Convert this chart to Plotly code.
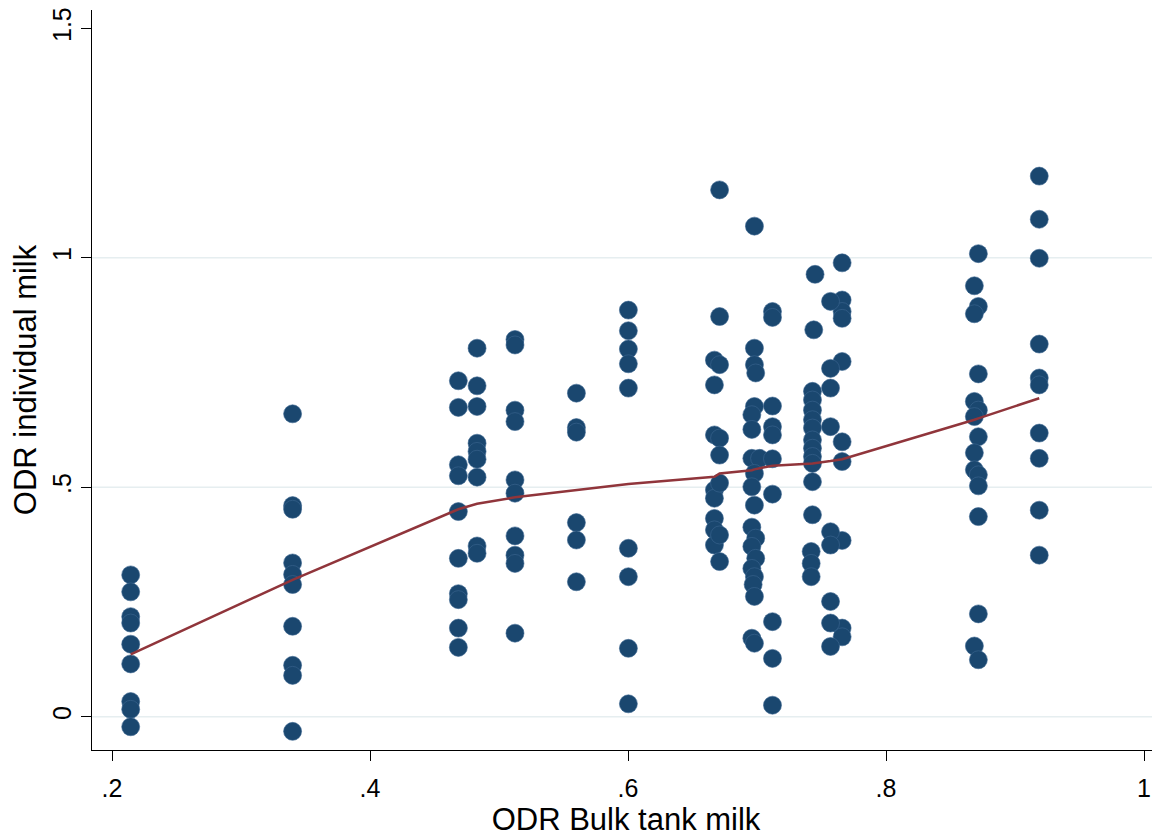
import plotly.graph_objects as go

# ---- data ----
x_bulk = (
    [0.2145] * 9
    + [0.340] * 10
    + [0.4685] * 10
    + [0.483] * 9
    + [0.5124] * 10
    + [0.560] * 6
    + [0.6003] * 9
    + [0.667] * 8 + [0.671] * 8
    + [0.698, 0.698, 0.698, 0.699, 0.698, 0.696, 0.696, 0.696, 0.702, 0.698,
       0.696, 0.698, 0.696, 0.699, 0.696, 0.699, 0.696, 0.698, 0.697, 0.698,
       0.696, 0.698]
    + [0.712] * 10
    + [0.745, 0.744] + [0.743] * 11 + [0.742] * 3
    + [0.766] * 10 + [0.757] * 9
    + [0.8716, 0.8685, 0.8716, 0.8685, 0.8716, 0.8685, 0.8716, 0.8685, 0.8716,
       0.8685, 0.8685, 0.8716, 0.8716, 0.8716, 0.8716, 0.8685, 0.8716]
    + [0.9188] * 10
)

y_indiv = (
    [0.309, 0.272, 0.218, 0.204, 0.158, 0.115, 0.033, 0.016, -0.022]
    + [0.660, 0.460, 0.452, 0.335, 0.310, 0.288, 0.197, 0.112, 0.090, -0.032]
    + [0.732, 0.674, 0.549, 0.525, 0.447, 0.345, 0.268, 0.255, 0.193, 0.151]
    + [0.803, 0.721, 0.676, 0.596, 0.578, 0.561, 0.522, 0.372, 0.356]
    + [0.822, 0.810, 0.668, 0.643, 0.516, 0.487, 0.394, 0.352, 0.334, 0.182]
    + [0.705, 0.630, 0.620, 0.423, 0.385, 0.294]
    + [0.886, 0.841, 0.801, 0.769, 0.716, 0.367, 0.305, 0.149, 0.028]
    + [0.777, 0.723, 0.614, 0.494, 0.476, 0.432, 0.407, 0.374]
    + [1.148, 0.872, 0.767, 0.607, 0.570, 0.509, 0.396, 0.338]
    + [1.069, 0.803, 0.767, 0.749, 0.676, 0.658, 0.626, 0.563, 0.563, 0.530,
       0.501, 0.461, 0.413, 0.389, 0.371, 0.345, 0.323, 0.305, 0.288, 0.262,
       0.171, 0.160]
    + [0.883, 0.870, 0.677, 0.632, 0.614, 0.562, 0.485, 0.207, 0.127, 0.025]
    + [0.964, 0.843, 0.709, 0.690, 0.668, 0.647, 0.629, 0.603, 0.585, 0.567,
       0.552, 0.512, 0.440, 0.360, 0.334, 0.305]
    + [0.989, 0.908, 0.883, 0.868, 0.774, 0.599, 0.556, 0.384, 0.193, 0.174]
    + [0.905, 0.759, 0.716, 0.632, 0.403, 0.374, 0.251, 0.204, 0.153]
    + [1.009, 0.939, 0.894, 0.878, 0.747, 0.687, 0.668, 0.654, 0.610, 0.575,
       0.538, 0.527, 0.503, 0.436, 0.224, 0.154, 0.124]
    + [1.178, 1.084, 0.999, 0.812, 0.738, 0.723, 0.618, 0.563, 0.450, 0.352]
)

lowess_x = [0.2145, 0.340, 0.4685, 0.483, 0.5124, 0.560, 0.6003, 0.667, 0.671,
            0.696, 0.698, 0.712, 0.743, 0.757, 0.766, 0.8685, 0.8716, 0.9188]
lowess_y = [0.136, 0.298, 0.452, 0.464, 0.478, 0.494, 0.507, 0.523, 0.530,
            0.537, 0.539, 0.547, 0.552, 0.557, 0.561, 0.647, 0.650, 0.694]

x_ticks = [0.2, 0.4, 0.6, 0.8, 1.0]
x_tick_text = [".2", ".4", ".6", ".8", "1"]
y_ticks = [0, 0.5, 1, 1.5]
y_tick_text = ["0", ".5", "1", "1.5"]
y_grid = [0, 0.5, 1]

FONT = "Liberation Sans, Arial, sans-serif"

fig = go.Figure()
for g in y_grid:
    fig.add_shape(type="line", xref="paper", yref="y", x0=0, x1=1, y0=g, y1=g,
                  line=dict(color="#e6eef0", width=1.5), layer="below")

fig.add_trace(go.Scatter(
    x=x_bulk, y=y_indiv, mode="markers",
    marker=dict(size=18, color="#1a476f", line=dict(width=0.6, color="#3d6690")),
    showlegend=False, hoverinfo="x+y",
))
fig.add_trace(go.Scatter(
    x=lowess_x, y=lowess_y, mode="lines",
    line=dict(color="#90353b", width=2.5),
    showlegend=False,
))

# the page body adds an 8px offset, so the figure is 8px smaller than the window
fig.update_layout(
    width=1152, height=829,
    margin=dict(l=84, r=0, t=2, b=87),
    paper_bgcolor="white", plot_bgcolor="white",
    font=dict(family=FONT, color="black"),
    xaxis=dict(
        range=[0.1845, 1.0124], tickvals=x_ticks, ticktext=x_tick_text,
        ticks="outside", ticklen=10, tickwidth=1.2, tickcolor="black",
        showline=True, linecolor="black", linewidth=1.4,
        showgrid=False, zeroline=False, automargin=False,
        ticklabelstandoff=6, ticklabeloverflow="allow",
        tickfont=dict(size=25, family=FONT),
        title=dict(text="ODR Bulk tank milk", font=dict(size=31, family=FONT), standoff=7),
    ),
    yaxis=dict(
        range=[-0.0726, 1.540], tickvals=y_ticks, ticktext=y_tick_text,
        tickangle=-90,
        ticks="outside", ticklen=10, tickwidth=1.2, tickcolor="black",
        showline=True, linecolor="black", linewidth=1.4,
        showgrid=False, zeroline=False, automargin=False,
        ticklabeloverflow="allow",
        tickfont=dict(size=25, family=FONT),
        title=dict(text="ODR individual milk", font=dict(size=31, family=FONT), standoff=3),
    ),
)

fig.write_html("out.html")
